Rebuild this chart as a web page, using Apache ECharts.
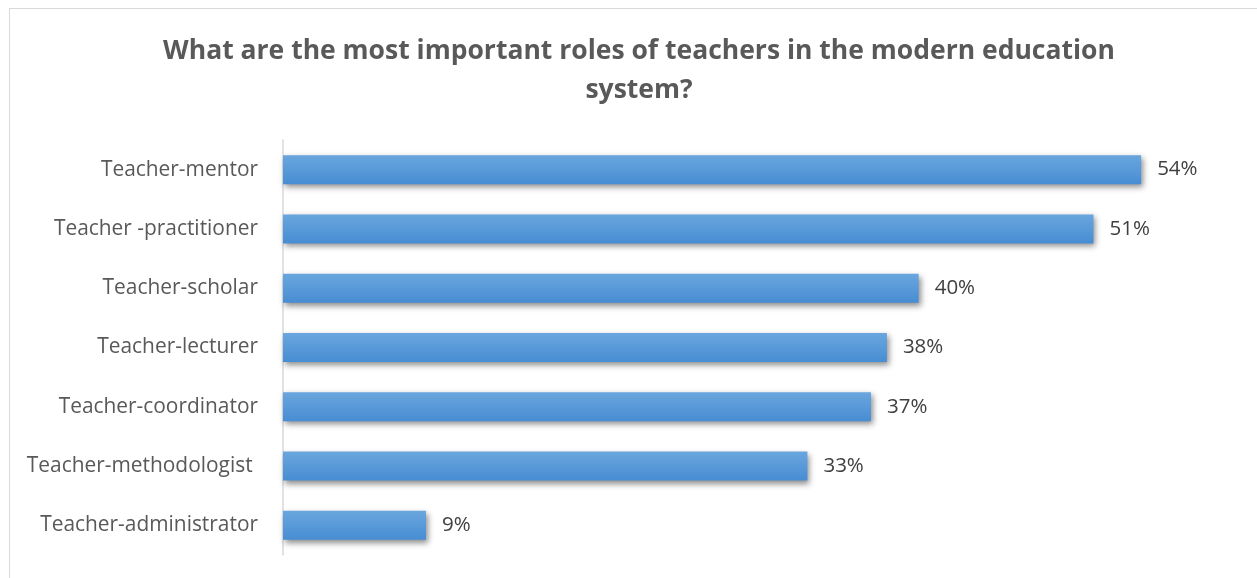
<!DOCTYPE html>
<html><head><meta charset="utf-8">
<script src="https://cdn.jsdelivr.net/npm/echarts@6/dist/echarts.min.js"></script>
<style>html,body{margin:0;padding:0;background:#fff}#c{width:1257px;height:578px}
#frame{position:absolute;left:9px;top:8px;width:1260px;height:580px;border:1px solid #d9d9d9;box-sizing:border-box;pointer-events:none}</style>
</head><body><div id="c"></div><div id="frame"></div>
<script>
const categories = ["Teacher-mentor","Teacher -practitioner","Teacher-scholar","Teacher-lecturer","Teacher-coordinator","Teacher-methodologist ","Teacher-administrator"];
const values = [54, 51, 40, 38, 37, 33, 9];
const titleText = "What are the most important roles of teachers in the modern education\nsystem?";
const chart = echarts.init(document.getElementById('c'), null, {renderer:'canvas'});
const font = '"Open Sans", "DejaVu Sans", sans-serif';
chart.setOption({
  animation:false,
  title:{text:titleText,left:634,textAlign:'center',top:27,
    textStyle:{fontFamily:font,fontSize:26.5,fontWeight:'bold',color:'#595959',lineHeight:39}},
  grid:{left:283,top:140,width:953.5,height:415,containLabel:false},
  xAxis:{type:'value',min:0,max:60,show:false},
  yAxis:{type:'category',data:categories.slice().reverse(),inverse:false,
    axisLine:{show:true,lineStyle:{color:'#d9d9d9',width:1.5}},axisTick:{show:false},
    axisLabel:{fontFamily:font,fontSize:20.9,color:'#595959',margin:25}},
  series:[{type:'bar',data:values.slice().reverse(),barWidth:29,
    itemStyle:{color:new echarts.graphic.LinearGradient(0,0,0,1,[{offset:0,color:'#6aa6de'},{offset:1,color:'#478dd3'}]),
      shadowColor:'rgba(0,0,0,0.45)',shadowBlur:6,shadowOffsetX:2,shadowOffsetY:3},
    label:{show:true,position:'right',distance:16,formatter:'{c}%',fontFamily:font,fontSize:20.5,color:'#404040'}}]
});
</script></body></html>
